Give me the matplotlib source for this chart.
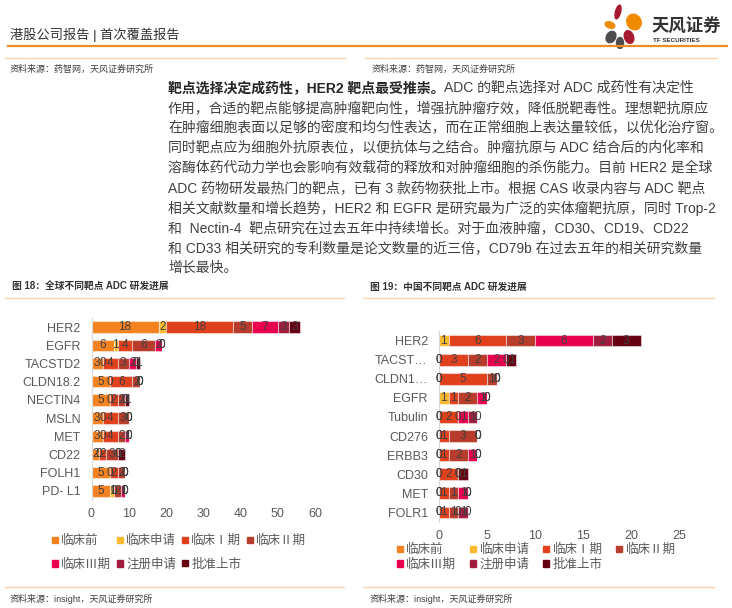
import numpy as np
import matplotlib
matplotlib.use("Agg")
import matplotlib.pyplot as plt
from matplotlib.lines import Line2D
from matplotlib.patches import Patch, Ellipse

plt.rcParams['font.family'] = ['Liberation Sans', 'Noto Sans CJK SC', 'DejaVu Sans']

# ---- data ----
stages = ['临床前', '临床申请', '临床Ⅰ期', '临床Ⅱ期', '临床Ⅲ期', '注册申请', '批准上市']
stage_colors = ['#F58220', '#FBBA2E', '#E0401C', '#B83C2C', '#E8004E', '#A11D3D', '#660011']

global_targets = ['HER2', 'EGFR', 'TACSTD2', 'CLDN18.2', 'NECTIN4', 'MSLN', 'MET', 'CD22', 'FOLH1', 'PD- L1']
global_pre = [18, 6, 3, 5, 5, 3, 3, 2, 5, 5]
global_ind = [2, 1, 0, 0, 0, 0, 0, 0, 0, 1]
global_p1 = [18, 4, 4, 6, 2, 4, 4, 2, 2, 0]
global_p2 = [5, 6, 3, 2, 2, 3, 2, 3, 2, 2]
global_p3 = [7, 2, 2, 0, 0, 0, 1, 0, 0, 1]
global_reg = [3, 0, 0, 0, 0, 0, 0, 0, 0, 0]
global_appr = [3, 0, 1, 0, 1, 0, 0, 2, 0, 0]

china_targets = ['HER2', 'TACST…', 'CLDN1…', 'EGFR', 'Tubulin', 'CD276', 'ERBB3', 'CD30', 'MET', 'FOLR1']
china_pre = [np.nan, 0, 0, np.nan, 0, 0, 0, 0, 0, 0]
china_ind = [1, 0, 0, 1, 0, 0, 0, 0, 0, 0]
china_p1 = [6, 3, 5, 1, 2, 1, 1, 2, 1, 1]
china_p2 = [3, 2, 1, 2, 0, 3, 2, 0, 1, 1]
china_p3 = [6, 2, 0, 1, 1, 0, 1, 0, 1, 0]
china_reg = [2, 0, 0, 0, 1, 0, 0, 0, 0, 1]
china_appr = [3, 1, 0, 0, 0, 0, 0, 1, 0, 0]

paragraph = [
    "作用，合适的靶点能够提高肿瘤靶向性，增强抗肿瘤疗效，降低脱靶毒性。理想靶抗原应",
    "在肿瘤细胞表面以足够的密度和均匀性表达，而在正常细胞上表达量较低，以优化治疗窗。",
    "同时靶点应为细胞外抗原表位，以便抗体与之结合。肿瘤抗原与 ADC 结合后的内化率和",
    "溶酶体药代动力学也会影响有效载荷的释放和对肿瘤细胞的杀伤能力。目前 HER2 是全球",
    "ADC 药物研发最热门的靶点，已有 3 款药物获批上市。根据 CAS 收录内容与 ADC 靶点",
    "相关文献数量和增长趋势，HER2 和 EGFR 是研究最为广泛的实体瘤靶抗原，同时 Trop-2",
    "和  Nectin-4  靶点研究在过去五年中持续增长。对于血液肿瘤，CD30、CD19、CD22",
    "和 CD33 相关研究的专利数量是论文数量的近三倍，CD79b 在过去五年的相关研究数量",
    "增长最快。",
]

W, H = 732, 608
fig = plt.figure(figsize=(W / 100, H / 100), dpi=100)


def fx(x):
    return x / W


def fy(y):
    return 1 - y / H


def hline(x0, x1, y, color, lw):
    fig.add_artist(Line2D([fx(x0), fx(x1)], [fy(y), fy(y)], transform=fig.transFigure,
                          color=color, lw=lw))


# ---- page header ----
fig.text(fx(10), fy(35), '港股公司报告 | 首次覆盖报告', fontsize=9.5, color='#333333', va='center')
hline(8, 727, 46, '#F08A24', 1.6)
fig.text(fx(652), fy(26), '天风证券', fontsize=12.5, fontweight='bold', color='#333333', va='center')
fig.text(fx(653), fy(41), 'TF SECURITIES', fontsize=4.5, fontweight='bold', color='#333333', va='center')

logo = fig.add_axes([fx(601), fy(49), 48 / W, 46 / H])
logo.set_xlim(0, 48)
logo.set_ylim(46, 0)
logo.axis('off')
petals = [((17, 9), 5, 14, 15, '#A6192E'), ((33, 19), 14, 16, -30, '#F08A00'),
          ((9, 22), 10, 6, 20, '#F08A00'), ((10, 34), 9, 12, 30, '#4D4D4D'),
          ((28, 34), 9, 13, -20, '#A6192E'), ((19, 40), 7, 11, 0, '#4D4D4D')]
for c, w, h, a, col in petals:
    logo.add_patch(Ellipse(c, w, h, angle=a, color=col))

# upper source lines
hline(5, 345, 58, '#FAD3B0', 1.0)
hline(365, 717, 58, '#FAD3B0', 1.0)
fig.text(fx(10), fy(69), '资料来源：药智网，天风证券研究所', fontsize=6.5, color='#404040', va='center')
fig.text(fx(372), fy(69), '资料来源：药智网，天风证券研究所', fontsize=6.5, color='#404040', va='center')

# ---- paragraph ----
psize = 10
bold = fig.text(fx(168), fy(88), '靶点选择决定成药性，HER2 靶点最受推崇。', fontsize=psize,
                fontweight='bold', color='#262626', va='center')
# rest of the first line continues right after the bold lead-in
fig.add_artist(plt.Annotation('ADC 的靶点选择对 ADC 成药性有决定性', xy=(1.0, 0.5), xycoords=bold,
                              fontsize=psize, color='#404040', va='center', ha='left'))
for i, line in enumerate(paragraph):
    fig.text(fx(168), fy(108 + 20 * i), line, fontsize=psize, color='#404040', va='center')

# ---- chart titles and frame lines ----
fig.text(fx(12), fy(287), '图 18：全球不同靶点 ADC 研发进展', fontsize=7, fontweight='bold',
         color='#333333', va='center')
fig.text(fx(370), fy(287), '图 19：中国不同靶点 ADC 研发进展', fontsize=7, fontweight='bold',
         color='#333333', va='center')
hline(5, 344, 298, '#FAD3B0', 1.0)
hline(363, 714, 298, '#FAD3B0', 1.0)
hline(5, 344, 587, '#FAD3B0', 1.0)
hline(363, 714, 587, '#FAD3B0', 1.0)
fig.text(fx(10), fy(599), '资料来源：insight，天风证券研究所', fontsize=6.5, color='#404040', va='center')
fig.text(fx(370), fy(599), '资料来源：insight，天风证券研究所', fontsize=6.5, color='#404040', va='center')


def stacked(ax, targets, series, xmax, xticks):
    y = np.arange(len(targets))
    left = np.zeros(len(targets))
    for vals, col in zip(series, stage_colors):
        vals = np.array(vals, dtype=float)
        v0 = np.nan_to_num(vals)
        ax.barh(y, v0, left=left, height=0.62, color=col, edgecolor=(1, 1, 1, 0.45), linewidth=0.8)
        for yi, (l, v) in enumerate(zip(left, vals)):
            if np.isnan(v):
                continue
            ax.text(l + v / 2, yi, '%d' % v, ha='center', va='center', fontsize=8.5, color='#404040')
        left += v0
    ax.set_yticks(y)
    ax.set_yticklabels(targets)
    ax.set_ylim(len(targets) - 0.5, -0.5)
    ax.set_xlim(0, xmax)
    ax.set_xticks(xticks)
    for s in ['top', 'right', 'bottom']:
        ax.spines[s].set_visible(False)
    ax.spines['left'].set_color('#D9D9D9')
    ax.tick_params(axis='both', length=0, labelsize=9, labelcolor='#595959')
    ax.tick_params(axis='y', pad=8)
    ax.tick_params(axis='x', pad=6)


ax1 = fig.add_axes([fx(91.5), fy(500), (315 - 91.5) / W, 182 / H])
stacked(ax1, global_targets,
        [global_pre, global_ind, global_p1, global_p2, global_p3, global_reg, global_appr],
        60, range(0, 61, 10))

ax2 = fig.add_axes([fx(439), fy(522), (679 - 439) / W, 191 / H])
stacked(ax2, china_targets,
        [china_pre, china_ind, china_p1, china_p2, china_p3, china_reg, china_appr],
        25, range(0, 26, 5))

# legend entries go row by row: matplotlib fills columns, so reorder
order = [0, 4, 1, 5, 2, 6, 3]
handles = [Patch(color=stage_colors[k], label=stages[k]) for k in order]
fig.legend(handles=handles, loc='upper left', bbox_to_anchor=(fx(52), fy(535)), ncol=4,
           frameon=False, fontsize=9, handlelength=0.45, handleheight=0.45, handletextpad=0.3,
           columnspacing=0.45, labelspacing=0.9, borderpad=0, borderaxespad=0,
           labelcolor='#595959')
fig.legend(handles=handles, loc='upper left', bbox_to_anchor=(fx(397), fy(544)), ncol=4,
           frameon=False, fontsize=9, handlelength=0.45, handleheight=0.45, handletextpad=0.3,
           columnspacing=1.1, labelspacing=0.2, borderpad=0, borderaxespad=0,
           labelcolor='#595959')

fig.savefig('out.png', dpi=100)
